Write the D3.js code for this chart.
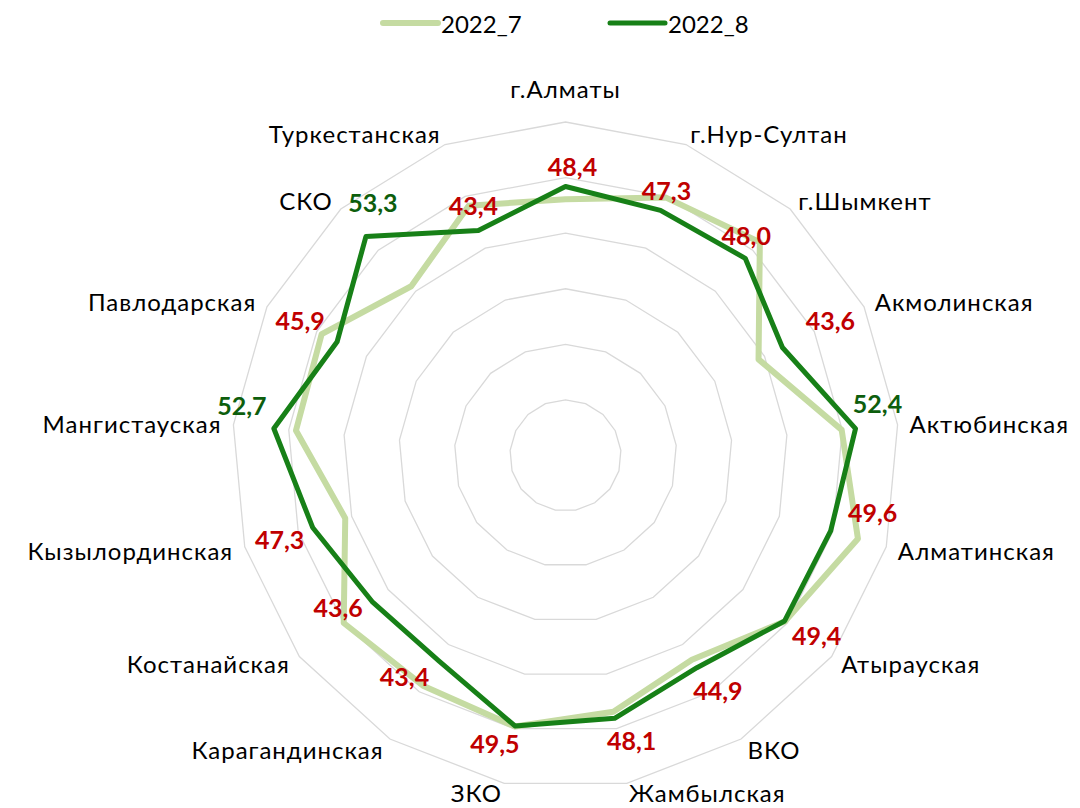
<!DOCTYPE html>
<html><head><meta charset="utf-8">
<script src="https://cdn.jsdelivr.net/npm/d3@7"></script>
<style>body{margin:0;background:#fff;} svg{display:block;}</style>
</head><body>
<svg id="chart" width="1080" height="808"></svg>
<script>
const categories = ["г.Алматы","г.Нур-Султан","г.Шымкент","Акмолинская","Актюбинская","Алматинская","Атырауская","ВКО","Жамбылская","ЗКО","Карагандинская","Костанайская","Кызылординская","Мангистауская","Павлодарская","СКО","Туркестанская"];
const series2022_7 = [46.1, 49.8, 51.9, 38.8, 49.9, 54.7, 49.5, 43.2, 46.9, 49.6, 48.7, 50.0, 41.2, 48.7, 49.0, 41.2, 48.2];
const series2022_8 = [48.4, 47.3, 48.0, 43.6, 52.4, 49.6, 49.4, 44.9, 48.1, 49.5, 43.4, 43.6, 47.3, 52.7, 45.9, 53.3, 43.4];
const seriesNames = ["2022_7", "2022_8"];
const axisTicks = [10, 20, 30, 40, 50, 60];

// layout / style (not data)
const labelOffsets = [[7,-20],[6,-20],[1,-23],[48,-27],[22,-26],[42,-19],[32,14],[21,22],[17,22],[-20,17],[-34,15],[-34,5],[-33,12],[-32,-23],[-37,-22],[7,-35],[-5,-26]];
const colors = {s7: "#c5dba2", s8: "#178017", red: "#c00000", dark: "#0d5e0d", grid: "#d9d9d9"};
const cx = 565.5, cy = 455.5, R = 333.5;
const FONT = "Lato, 'Open Sans', sans-serif";

const svg = d3.select("#chart");
const n = categories.length;
const rScale = d3.scaleLinear().domain([0, 60]).range([0, R]);
const aScale = d3.scaleLinear().domain([0, n]).range([0, 2 * Math.PI]);
const g = svg.append("g").attr("transform", `translate(${cx},${cy})`);

// grid rings
const idx = d3.range(n);
axisTicks.forEach(t => {
  g.append("path")
    .attr("d", d3.lineRadial().angle(i => aScale(i)).radius(() => rScale(t)).curve(d3.curveLinearClosed)(idx))
    .attr("fill", "none").attr("stroke", colors.grid).attr("stroke-width", 1.3);
});

// series
const line = d3.lineRadial().angle((d, i) => aScale(i)).radius(d => rScale(d)).curve(d3.curveLinearClosed);
g.append("path").attr("d", line(series2022_7)).attr("fill", "none")
  .attr("stroke", colors.s7).attr("stroke-width", 6).attr("stroke-linejoin", "round");
g.append("path").attr("d", line(series2022_8)).attr("fill", "none")
  .attr("stroke", colors.s8).attr("stroke-width", 5).attr("stroke-linejoin", "round");

// data labels (2022_8)
series2022_8.forEach((v, i) => {
  const a = aScale(i), r = rScale(v);
  const x = r * Math.sin(a), y = -r * Math.cos(a);
  g.append("text")
    .attr("x", x + labelOffsets[i][0]).attr("y", y + labelOffsets[i][1])
    .attr("text-anchor", "middle").attr("dominant-baseline", "central")
    .attr("font-family", FONT).attr("font-weight", "bold").attr("font-size", 25)
    .attr("fill", v >= 50 ? colors.dark : colors.red)
    .text(d3.format(".1f")(v).replace(".", ","));
});

// category labels
categories.forEach((c, i) => {
  const a = aScale(i), r = R + 12;
  const s = Math.sin(a), co = Math.cos(a);
  let x = r * s, y = -r * co;
  let anchor = Math.abs(s) < 0.05 ? "middle" : (s > 0 ? "start" : "end");
  if (anchor === "middle") y -= 22;
  if (co < -0.95) y -= 3;
  g.append("text").attr("x", x).attr("y", y)
    .attr("text-anchor", anchor).attr("dominant-baseline", "central")
    .attr("font-family", FONT).attr("font-size", 24).attr("letter-spacing", 1).attr("fill", "#000")
    .text(c);
});

// legend
const legend = [{name: seriesNames[0], color: colors.s7, w: 6, x: 383}, {name: seriesNames[1], color: colors.s8, w: 5, x: 610}];
legend.forEach(l => {
  svg.append("line").attr("x1", l.x).attr("x2", l.x + 55).attr("y1", 23).attr("y2", 23)
    .attr("stroke", l.color).attr("stroke-width", l.w).attr("stroke-linecap", "round");
  svg.append("text").attr("x", l.x + 58).attr("y", 23).attr("dominant-baseline", "central")
    .attr("font-family", FONT).attr("font-size", 24).attr("fill", "#000").text(l.name);
});
</script>
</body></html>
